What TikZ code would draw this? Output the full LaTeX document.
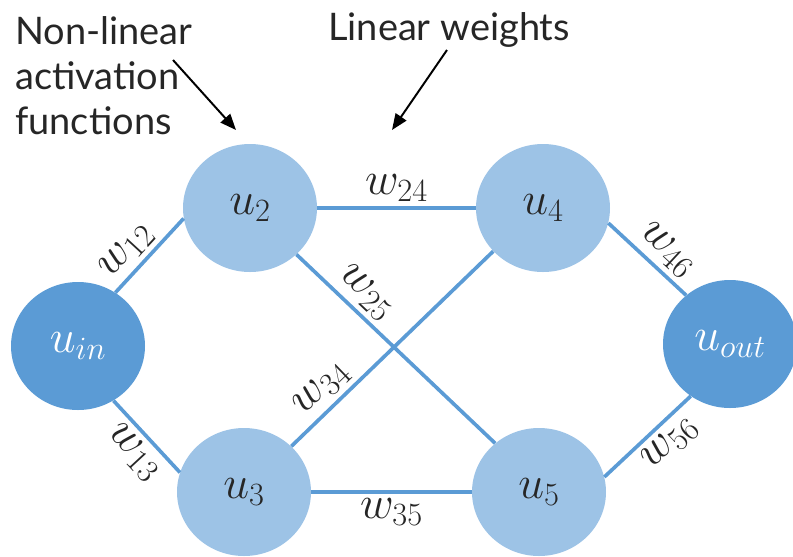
\RequirePackage{fix-cm}
\documentclass[tikz,border=0pt]{standalone}
\usepackage{fontspec}
\setmainfont{Lato}
\usepackage{tikz}
\usetikzlibrary{arrows.meta,shapes.geometric}

\definecolor{darkblue}{HTML}{5B9BD5}
\definecolor{lightblue}{HTML}{9DC3E6}

\begin{document}
\begin{tikzpicture}[
      font=\fontsize{27}{32}\selectfont,
      unit/.style={ellipse, minimum width=33.5mm, minimum height=32mm,
                   inner sep=0pt, font=\fontsize{33}{38}\selectfont},
      hidden/.style={unit, fill=lightblue, text=black!85},
      outer/.style={unit, fill=darkblue, text=white},
      edge/.style={draw=darkblue, line width=2.6pt},
      wlabel/.style={font=\fontsize{33}{38}\selectfont, inner sep=1.2mm,
                     text=black!85},
      note/.style={align=left, inner sep=0pt, text=black!85},
      >={Triangle[length=4mm, width=3.2mm]}]

    \useasboundingbox (0mm,0mm) rectangle (198.25mm,-139mm);

    % units
    \node[outer]  (uin)  at (19.5mm,-86.5mm)   {$u_{in}$};
    \node[hidden] (u2)   at (62.5mm,-52mm)     {$u_2$};
    \node[hidden] (u3)   at (61mm,-123mm)      {$u_3$};
    \node[hidden] (u4)   at (135.75mm,-52mm)   {$u_4$};
    \node[hidden] (u5)   at (134.75mm,-123mm)  {$u_5$};
    \node[outer]  (uout) at (182.5mm,-86mm)    {$u_{out}$};

    % weights
    \draw[edge] (uin.55) -- node[wlabel, pos=.38, sloped, above] {$w_{12}$} (u2.189);
    \draw[edge] (uin.303) -- node[wlabel, pos=.53, sloped, below] {$w_{13}$} (u3.163);
    \draw[edge] (u2.east) -- node[wlabel, midway, above] {$w_{24}$} (u4.west);
    \draw[edge] (u2.315) -- node[wlabel, pos=.28, sloped, above] {$w_{25}$} (u5.132);
    \draw[edge] (u3.44) -- node[wlabel, pos=.22, sloped, above] {$w_{34}$} (u4.221);
    \draw[edge] (u3.east) -- node[wlabel, midway, below] {$w_{35}$} (u5.west);
    \draw[edge] (u4.347) -- node[wlabel, pos=.58, sloped, above] {$w_{46}$} (uout.132);
    \draw[edge] (u5.13) -- node[wlabel, pos=.6, sloped, below] {$w_{56}$} (uout.233);

    % notes
    \node[note, anchor=north west] (nonlin) at (3.75mm,-4mm)
      {Non-linear\\activation\\functions};
    \node[note, anchor=base west] (linw) at (82mm,-10mm) {Linear weights};

    \coordinate (nlfrom) at (43.25mm,-15mm);
    \coordinate (nlto)   at (59mm,-32.5mm);
    \coordinate (lwfrom) at (111.75mm,-12.5mm);
    \coordinate (lwto)   at (98mm,-32.5mm);
    \draw[->, line width=1.4pt] (nlfrom) -- (nlto);
    \draw[->, line width=1.4pt] (lwfrom) -- (lwto);
  \end{tikzpicture}
\end{document}
